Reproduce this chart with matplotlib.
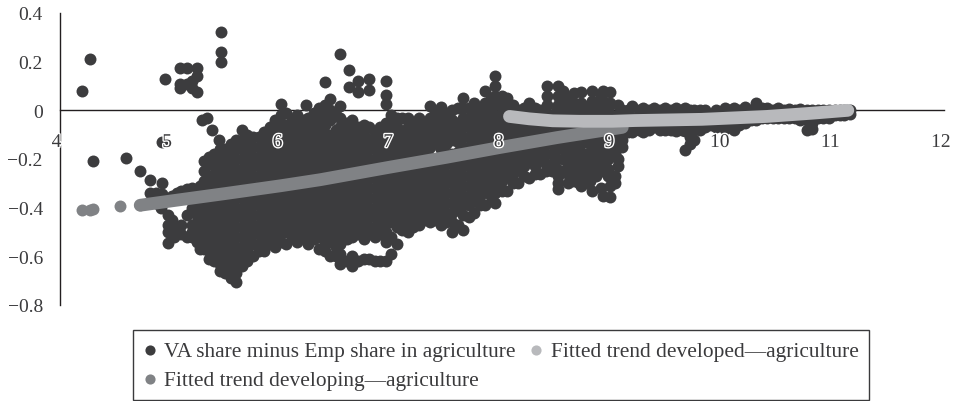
"""
VA share minus employment share in agriculture against income,
with fitted trends for developed and developing countries.
"""

import matplotlib
matplotlib.use('Agg')
import matplotlib.pyplot as plt
import matplotlib.patheffects as pe
from matplotlib.transforms import ScaledTranslation

plt.rcParams['font.family'] = ['Liberation Serif', 'DejaVu Serif']

# Each entry is (x, [y values at that x])
va_columns = [
    (4.20, [0.08]), (4.28, [0.21]), (4.30, [-0.21]), (4.60, [-0.195]),
    (4.73, [-0.25]), (4.82, [-0.285, -0.34]), (4.87, [-0.34, -0.38]),
    (4.93, [-0.30, -0.345, -0.13]), (4.95, [0.127]),
    (4.98, [-0.43, -0.47, -0.50, -0.545]), (5.04, [-0.49, -0.52]),
    (5.06, [-0.34]), (5.09, [0.176, 0.11, 0.09]), (5.15, [0.172, 0.11, -0.325, -0.43, -0.52]),
    (5.20, [0.12, 0.09, -0.32, -0.40, -0.47, -0.50, -0.52]),
    (5.24, [0.172, 0.14, 0.075]),
    (5.27, [-0.31, -0.35, -0.40, -0.44, -0.48, -0.51, -0.57]),
    (5.29, [-0.04]), (5.33, [-0.03]),
    (5.35, [-0.19, -0.22, -0.27, -0.31, -0.35, -0.39, -0.43, -0.47, -0.51, -0.55, -0.58, -0.61]),
    (5.38, [-0.08]), (5.44, [-0.12]),
    (5.46, [0.32, 0.24, 0.20]),
    (5.45, [-0.16, -0.20, -0.24, -0.28, -0.32, -0.36, -0.40, -0.44, -0.48, -0.52, -0.56, -0.60, -0.63, -0.66]),
    (5.55, [-0.14, -0.18, -0.22, -0.26, -0.30, -0.34, -0.38, -0.42, -0.46, -0.50, -0.54, -0.58, -0.62, -0.66, -0.69]),
    (5.60, [-0.705, -0.67]),
    (5.65, [-0.08, -0.12, -0.16, -0.20, -0.24, -0.28, -0.32, -0.36, -0.40, -0.44, -0.48, -0.52, -0.56, -0.60, -0.64]),
    (5.75, [-0.11, -0.15, -0.19, -0.23, -0.27, -0.31, -0.35, -0.39, -0.43, -0.47, -0.51, -0.55, -0.60]),
    (5.85, [-0.09, -0.13, -0.17, -0.21, -0.25, -0.29, -0.33, -0.37, -0.41, -0.45, -0.49, -0.53, -0.58]),
    (5.95, [-0.04, -0.08, -0.12, -0.16, -0.20, -0.24, -0.28, -0.32, -0.36, -0.40, -0.44, -0.48, -0.52, -0.56]),
    (6.00, [0.025, -0.02]),
    (6.05, [-0.01, -0.06, -0.10, -0.14, -0.18, -0.22, -0.26, -0.30, -0.34, -0.38, -0.42, -0.46, -0.50, -0.55]),
    (6.15, [-0.02, -0.06, -0.10, -0.14, -0.18, -0.22, -0.26, -0.30, -0.34, -0.38, -0.42, -0.46, -0.50, -0.54]),
    (6.23, [0.02]),
    (6.25, [-0.03, -0.07, -0.11, -0.15, -0.19, -0.23, -0.27, -0.31, -0.35, -0.39, -0.43, -0.47, -0.51, -0.55]),
    (6.35, [0.01, -0.03, -0.08, -0.12, -0.16, -0.20, -0.24, -0.28, -0.32, -0.36, -0.40, -0.44, -0.48, -0.52, -0.57]),
    (6.40, [0.115]),
    (6.45, [0.045, 0.0, -0.04, -0.10, -0.14, -0.18, -0.22, -0.26, -0.30, -0.34, -0.38, -0.42, -0.46, -0.50, -0.54, -0.60]),
    (6.54, [0.23, 0.017, -0.03, -0.07, -0.11, -0.15, -0.19, -0.23, -0.27, -0.31, -0.35, -0.39, -0.43, -0.47, -0.51, -0.55, -0.59, -0.63]),
    (6.62, [0.095, 0.165]),
    (6.65, [-0.04, -0.08, -0.12, -0.16, -0.20, -0.24, -0.28, -0.32, -0.36, -0.40, -0.44, -0.48, -0.52, -0.60, -0.64]),
    (6.70, [0.12, 0.075]),
    (6.75, [-0.06, -0.10, -0.14, -0.18, -0.22, -0.26, -0.30, -0.34, -0.38, -0.42, -0.46, -0.50, -0.53, -0.61]),
    (6.80, [0.085, 0.127]),
    (6.85, [-0.09, -0.12, -0.16, -0.20, -0.24, -0.28, -0.32, -0.36, -0.40, -0.44, -0.48, -0.52, -0.62]),
    (6.95, [0.12, 0.065, 0.025, -0.05, -0.09, -0.13, -0.18, -0.22, -0.26, -0.30, -0.34, -0.38, -0.42, -0.46, -0.50, -0.54, -0.62]),
    (7.05, [-0.03, -0.07, -0.11, -0.15, -0.20, -0.24, -0.28, -0.32, -0.36, -0.40, -0.44, -0.48, -0.55]),
    (7.15, [-0.03, -0.07, -0.11, -0.15, -0.19, -0.23, -0.27, -0.31, -0.35, -0.39, -0.43, -0.47, -0.50]),
    (7.25, [-0.03, -0.07, -0.11, -0.15, -0.19, -0.23, -0.27, -0.31, -0.35, -0.39, -0.43, -0.47]),
    (7.35, [0.016, -0.03, -0.07, -0.11, -0.15, -0.19, -0.23, -0.27, -0.31, -0.35, -0.39, -0.43, -0.46]),
    (7.45, [0.015, -0.03, -0.07, -0.11, -0.16, -0.20, -0.24, -0.28, -0.32, -0.36, -0.40, -0.44, -0.47]),
    (7.55, [0.0, -0.04, -0.08, -0.12, -0.18, -0.22, -0.26, -0.30, -0.34, -0.38, -0.42, -0.46, -0.50]),
    (7.65, [0.05, 0.01, -0.03, -0.07, -0.11, -0.15, -0.19, -0.23, -0.27, -0.31, -0.35, -0.39, -0.43, -0.49]),
    (7.75, [0.03, -0.01, -0.05, -0.09, -0.13, -0.17, -0.21, -0.25, -0.29, -0.33, -0.37, -0.42]),
    (7.85, [0.08, 0.03, -0.01, -0.05, -0.09, -0.13, -0.17, -0.21, -0.25, -0.29, -0.33, -0.39]),
    (7.94, [0.14, 0.10, 0.06, 0.02, -0.02, -0.06, -0.10, -0.14, -0.18, -0.22, -0.26, -0.30, -0.34, -0.38]),
    (8.05, [0.05, 0.01, -0.03, -0.07, -0.11, -0.15, -0.19, -0.23, -0.27, -0.33]),
    (8.15, [0.0, -0.04, -0.08, -0.12, -0.16, -0.20, -0.24, -0.30]),
    (8.25, [0.03, -0.01, -0.05, -0.09, -0.13, -0.17, -0.21, -0.28]),
    (8.35, [0.0, -0.04, -0.08, -0.12, -0.16, -0.20, -0.26]),
    (8.41, [0.10, 0.06, 0.02]),
    (8.45, [-0.02, -0.06, -0.10, -0.14, -0.18, -0.22, -0.25]),
    (8.51, [0.10, 0.06, 0.02, -0.30, -0.325, -0.27]),
    (8.55, [0.08, 0.04, 0.0, -0.04, -0.08, -0.12, -0.16, -0.20, -0.25]),
    (8.65, [0.07, 0.03, -0.01, -0.05, -0.09, -0.13, -0.17, -0.21, -0.25, -0.29]),
    (8.72, [0.075, 0.03, -0.31]),
    (8.75, [-0.01, -0.05, -0.09, -0.13, -0.18, -0.22, -0.26, -0.30]),
    (8.82, [0.08, 0.04, 0.0, -0.33]),
    (8.85, [-0.04, -0.08, -0.12, -0.16, -0.20, -0.24, -0.27]),
    (8.92, [0.08, 0.04, 0.0, -0.04, -0.09, -0.13, -0.17, -0.21, -0.25, -0.35]),
    (8.98, [0.075, 0.03, -0.02, -0.355, -0.31]),
    (9.02, [-0.06, -0.10, -0.14, -0.18, -0.27, -0.30]),
    (9.09, [0.0, -0.04, -0.08, -0.12, -0.15]),
    (9.18, [0.016, -0.03, -0.06, -0.09]),
    (9.28, [0.01, -0.03, -0.06, -0.09]), (9.38, [0.01, -0.03, -0.07]),
    (9.48, [0.01, -0.03, -0.08]), (9.58, [0.01, -0.03, -0.085]),
    (9.66, [0.01, -0.03, -0.085, -0.165]), (9.74, [0.0, -0.04, -0.08, -0.12]),
    (9.84, [0.0, -0.04, -0.07]), (9.94, [0.0, -0.04, -0.07]),
    (10.02, [0.01, -0.03, -0.075]), (10.10, [0.01, -0.03, -0.08]),
    (10.20, [0.015, -0.02, -0.05]), (10.30, [0.03, -0.01, -0.04]),
    (10.40, [0.01, -0.03]), (10.50, [0.01, -0.03]), (10.60, [0.005, -0.03]),
    (10.70, [0.005, -0.04]), (10.76, [0.0, -0.04, -0.08]),
    (10.86, [0.0, -0.03]), (10.96, [0.0, -0.03]), (11.06, [0.0, -0.02]),
    (11.15, [0.0, -0.015]),
]

# the dense middle of the cloud, between the columns above
va_dense_columns = [
    (4.92, [-0.37, -0.40]), (5.02, [-0.35, -0.45]), (5.10, [-0.33, -0.47, -0.51]),
    (5.24, [-0.33, -0.37, -0.43, -0.46, -0.54]),
    (5.31, [-0.21, -0.25, -0.29, -0.33, -0.37, -0.41, -0.45, -0.49, -0.53, -0.57]),
    (5.40, [-0.18, -0.22, -0.26, -0.30, -0.34, -0.38, -0.42, -0.46, -0.50, -0.54, -0.58, -0.62]),
    (5.50, [-0.16, -0.20, -0.24, -0.28, -0.32, -0.36, -0.40, -0.44, -0.48, -0.52, -0.56, -0.60, -0.64, -0.67]),
    (5.60, [-0.12, -0.16, -0.20, -0.24, -0.28, -0.32, -0.36, -0.40, -0.44, -0.48, -0.52, -0.56, -0.60, -0.63]),
    (5.70, [-0.10, -0.14, -0.18, -0.22, -0.26, -0.30, -0.34, -0.38, -0.42, -0.46, -0.50, -0.54, -0.58, -0.62]),
    (5.80, [-0.11, -0.15, -0.19, -0.23, -0.27, -0.31, -0.35, -0.39, -0.43, -0.47, -0.51, -0.55, -0.58]),
    (5.90, [-0.07, -0.11, -0.15, -0.19, -0.23, -0.27, -0.31, -0.35, -0.39, -0.43, -0.47, -0.51, -0.55]),
    (6.00, [-0.06, -0.10, -0.14, -0.18, -0.22, -0.26, -0.30, -0.34, -0.38, -0.42, -0.46, -0.50, -0.54]),
    (6.10, [-0.04, -0.08, -0.12, -0.16, -0.20, -0.24, -0.28, -0.32, -0.36, -0.40, -0.44, -0.48, -0.52]),
    (6.20, [-0.04, -0.08, -0.12, -0.16, -0.20, -0.24, -0.28, -0.32, -0.36, -0.40, -0.44, -0.48, -0.52]),
    (6.30, [-0.01, -0.05, -0.09, -0.13, -0.17, -0.21, -0.25, -0.29, -0.33, -0.37, -0.41, -0.45, -0.49, -0.53]),
    (6.40, [0.02, -0.02, -0.06, -0.10, -0.14, -0.18, -0.22, -0.26, -0.30, -0.34, -0.38, -0.42, -0.46, -0.50, -0.54, -0.58]),
    (6.50, [-0.02, -0.08, -0.12, -0.16, -0.20, -0.24, -0.28, -0.32, -0.36, -0.40, -0.44, -0.48, -0.52, -0.56, -0.60]),
    (6.60, [-0.05, -0.09, -0.13, -0.17, -0.21, -0.25, -0.29, -0.33, -0.37, -0.41, -0.45, -0.49, -0.53, -0.62]),
    (6.70, [-0.07, -0.11, -0.15, -0.19, -0.23, -0.27, -0.31, -0.35, -0.39, -0.43, -0.47, -0.51, -0.62]),
    (6.80, [-0.07, -0.12, -0.16, -0.20, -0.24, -0.28, -0.32, -0.36, -0.40, -0.44, -0.48, -0.51, -0.61]),
    (6.90, [-0.07, -0.11, -0.15, -0.19, -0.23, -0.27, -0.31, -0.35, -0.39, -0.43, -0.47, -0.51, -0.62]),
    (7.00, [-0.02, -0.06, -0.10, -0.14, -0.18, -0.22, -0.26, -0.30, -0.34, -0.38, -0.42, -0.46, -0.52, -0.59]),
    (7.10, [-0.03, -0.09, -0.13, -0.17, -0.21, -0.25, -0.29, -0.33, -0.37, -0.41, -0.45, -0.49]),
    (7.20, [-0.05, -0.09, -0.13, -0.17, -0.21, -0.25, -0.29, -0.33, -0.37, -0.41, -0.45, -0.48]),
    (7.30, [-0.05, -0.09, -0.13, -0.17, -0.21, -0.25, -0.29, -0.33, -0.37, -0.41, -0.45]),
    (7.40, [-0.01, -0.05, -0.09, -0.13, -0.21, -0.25, -0.29, -0.33, -0.37, -0.41, -0.45]),
    (7.50, [-0.01, -0.05, -0.09, -0.14, -0.18, -0.22, -0.26, -0.30, -0.34, -0.38, -0.42, -0.46]),
    (7.60, [0.01, -0.05, -0.09, -0.13, -0.17, -0.21, -0.25, -0.29, -0.33, -0.37, -0.41, -0.47]),
    (7.70, [0.01, -0.03, -0.07, -0.11, -0.15, -0.19, -0.23, -0.27, -0.31, -0.35, -0.39, -0.44]),
    (7.80, [0.0, -0.03, -0.07, -0.11, -0.15, -0.19, -0.23, -0.27, -0.31, -0.35, -0.39]),
    (7.90, [0.05, 0.01, -0.03, -0.07, -0.11, -0.15, -0.19, -0.23, -0.27, -0.31, -0.35]),
    (8.00, [0.06, 0.03, -0.01, -0.05, -0.09, -0.13, -0.17, -0.21, -0.25, -0.29, -0.33]),
    (8.10, [0.02, -0.02, -0.06, -0.10, -0.14, -0.18, -0.22, -0.26, -0.30]),
    (8.20, [0.01, -0.03, -0.07, -0.11, -0.15, -0.19, -0.23, -0.27]),
    (8.30, [0.01, -0.03, -0.07, -0.11, -0.15, -0.19, -0.23, -0.26]),
    (8.40, [-0.02, -0.06, -0.10, -0.14, -0.18, -0.22, -0.25]),
    (8.50, [0.0, -0.04, -0.08, -0.12, -0.16, -0.20, -0.24]),
    (8.60, [0.05, 0.02, -0.02, -0.06, -0.10, -0.14, -0.18, -0.22, -0.26, -0.30]),
    (8.70, [0.01, -0.03, -0.07, -0.11, -0.15, -0.19, -0.23, -0.27, -0.30]),
    (8.80, [0.02, -0.02, -0.06, -0.10, -0.14, -0.18, -0.22, -0.26, -0.29]),
    (8.90, [0.06, 0.02, -0.02, -0.06, -0.10, -0.14, -0.18, -0.22, -0.32]),
    (8.96, [0.0, -0.04, -0.08, -0.12, -0.16, -0.20, -0.24, -0.27]),
    (9.05, [0.02, -0.02, -0.20, -0.23]),
    (9.14, [0.0, -0.05, -0.09]), (9.24, [0.0, -0.05, -0.08]), (9.33, [0.0, -0.05, -0.08]),
    (9.43, [0.0, -0.05, -0.08]), (9.53, [0.0, -0.05, -0.08]), (9.63, [0.0, -0.05, -0.08]),
    (9.70, [0.0, -0.05, -0.11, -0.14]), (9.79, [0.0, -0.05, -0.08]), (9.89, [-0.02, -0.06]),
    (9.98, [-0.01, -0.06]), (10.06, [0.0, -0.06]), (10.15, [0.0, -0.06]), (10.25, [0.0, -0.04]),
    (10.35, [0.01, -0.03]), (10.45, [0.0, -0.03]), (10.55, [0.0, -0.03]), (10.65, [0.0, -0.03]),
    (10.81, [0.0, -0.05, -0.075]), (10.91, [0.0, -0.03]), (11.01, [0.0, -0.02]), (11.10, [0.0, -0.02]),
]

developing_x = [4.20, 4.28, 4.30, 4.55, 4.73, 5.00, 5.50, 6.00, 6.36, 6.97, 7.50, 7.98, 8.50, 9.09]
developing_y = [-0.41, -0.41, -0.405, -0.395, -0.39, -0.373, -0.342, -0.31, -0.285, -0.235, -0.193, -0.153, -0.112, -0.07]

developed_x = [8.07, 8.25, 8.46, 8.70, 9.00, 9.20, 9.81, 10.40, 10.80, 11.13]
developed_y = [-0.025, -0.035, -0.043, -0.045, -0.045, -0.042, -0.037, -0.025, -0.012, 0.0]

x_ticks = [4, 5, 6, 7, 8, 9, 10, 11, 12]
y_ticks = [-0.8, -0.6, -0.4, -0.2, 0, 0.2, 0.4]
y_tick_labels = ['\u22120.8', '\u22120.6', '\u22120.4', '\u22120.2', '0', '0.2', '0.4']

COLOR_VA = '#3c3c3e'
COLOR_DEVELOPING = '#808285'
COLOR_DEVELOPED = '#b8b9bc'
COLOR_TEXT = '#3a3a3c'

W, H = 955, 402
fig = plt.figure(figsize=(W / 100, H / 100), dpi=100)
ax = fig.add_axes([59.5 / W, 1 - 306 / H, (944 - 59.5) / W, (306 - 14) / H])

va_x = []
va_y = []
for x, ys in va_columns + va_dense_columns:
    for y in ys:
        va_x.append(x)
        va_y.append(y)

dot_size = 74
ax.scatter(va_x, va_y, s=dot_size, color=COLOR_VA, linewidths=0, zorder=1,
           label='VA share minus Emp share in agriculture')

# trends: isolated dots at the low end, then a solid run of overlapping dots
ax.scatter(developing_x[:5], developing_y[:5], s=dot_size, color=COLOR_DEVELOPING,
           linewidths=0, zorder=2, label='Fitted trend developing\u2014agriculture')
ax.plot(developing_x[4:], developing_y[4:], color=COLOR_DEVELOPING, lw=9.2,
        solid_capstyle='round', zorder=2)
ax.plot(developed_x, developed_y, color=COLOR_DEVELOPED, lw=9.2,
        solid_capstyle='round', zorder=3)
ax.scatter([], [], s=dot_size, color=COLOR_DEVELOPED, linewidths=0,
           label='Fitted trend developed\u2014agriculture')

ax.set_xlim(4, 12)
ax.set_ylim(-0.8, 0.4)
ax.patch.set_alpha(0)

for side in ['top', 'right']:
    ax.spines[side].set_visible(False)
ax.spines['bottom'].set_position(('data', 0))
for side in ['left', 'bottom']:
    ax.spines[side].set_color('#231f20')
    ax.spines[side].set_linewidth(1.0)
    ax.spines[side].set_zorder(0.5)

ax.set_axisbelow(False)
ax.set_xticks(x_ticks)
ax.set_yticks(y_ticks)
ax.set_yticklabels(y_tick_labels)
ax.tick_params(axis='both', length=0, labelsize=14, labelcolor=COLOR_TEXT)
ax.tick_params(axis='x', pad=17)
ax.tick_params(axis='y', pad=12)

# x labels sit a little left of their positions and carry a white halo over the dots
shift = ScaledTranslation(-3 / 72 * 0.72, 0, fig.dpi_scale_trans)
for lab in ax.get_xticklabels():
    lab.set_transform(lab.get_transform() + shift)
    lab.set_path_effects([pe.withStroke(linewidth=2.0, foreground='white')])

leg = ax.legend(loc='upper left', bbox_to_anchor=(133 / W, 1 - 331 / H),
                bbox_transform=fig.transFigure, ncol=2, fontsize=15.4,
                frameon=True, fancybox=False, framealpha=1, edgecolor='#3a3a3c',
                borderaxespad=0, borderpad=0.5, handlelength=0.6, handletextpad=0.37,
                columnspacing=0.65, labelspacing=0.42, labelcolor=COLOR_TEXT, markerscale=0.85)
leg.get_frame().set_linewidth(1.0)

plt.savefig('out.png', dpi=100)
